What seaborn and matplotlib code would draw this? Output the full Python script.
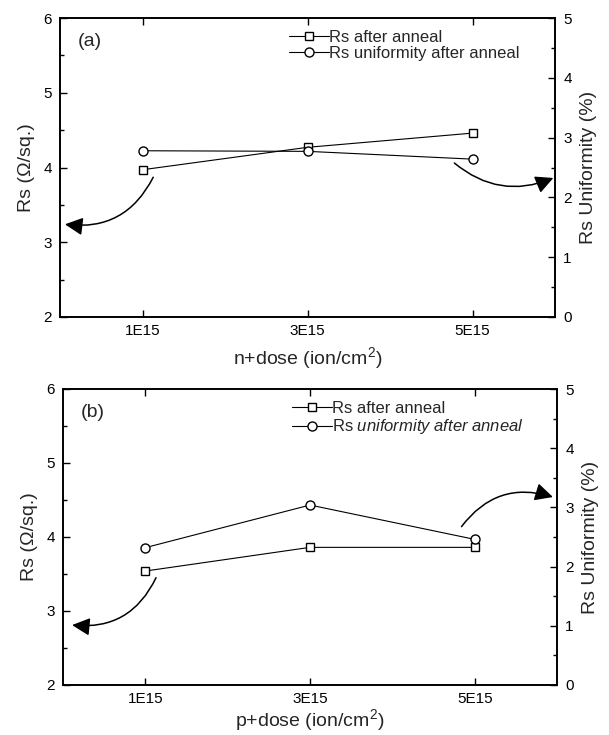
import numpy as np
import pandas as pd
import matplotlib
matplotlib.use("Agg")
import matplotlib.pyplot as plt
import seaborn as sns
from matplotlib.ticker import MultipleLocator, FixedLocator

sns.set_theme(style="white")
plt.rcParams['font.family'] = ['Liberation Sans', 'DejaVu Sans']
plt.rcParams['mathtext.fontset'] = 'custom'
plt.rcParams['mathtext.rm'] = 'Liberation Sans'
plt.rcParams['mathtext.it'] = 'Liberation Sans:italic'

# data (dose in units of 1E15 ion/cm^2)
dose = [1, 3, 5]
dose_labels = ["1E15", "3E15", "5E15"]
rs_n = [3.97, 4.27, 4.46]          # Rs after anneal, n+ (ohm/sq)
unif_n = [2.78, 2.77, 2.64]        # Rs uniformity after anneal, n+ (%)
rs_p = [3.54, 3.86, 3.86]          # Rs after anneal, p+
unif_p = [2.32, 3.04, 2.46]        # Rs uniformity after anneal, p+

fig = plt.figure(figsize=(6.09, 7.35), dpi=100)
ax1 = fig.add_axes([60/609, 1-317/735, 495/609, 299/735])
ax2 = fig.add_axes([63/609, 1-685/735, 494/609, 296/735])

panels = [
    (ax1, rs_n, unif_n, "(a)", "n+dose (ion/cm$^2$)", 5,
     "Rs uniformity after anneal",
     [((1.13, 3.87), (0.06, 3.24), -0.35), ((4.78, 4.06), (5.98, 3.86), 0.3)]),
    (ax2, rs_p, unif_p, "(b)", "p+dose (ion/cm$^2$)", 1,
     r"Rs $\it{uniformity\ after\ anneal}$",
     [((1.13, 3.45), (0.11, 2.81), -0.35), ((4.84, 4.14), (5.95, 4.54), -0.35)]),
]

for ax, rs, un, tag, xlab, lpad, lab2, arrows in panels:
    df1 = pd.DataFrame({"dose": dose, "val": rs})
    df2 = pd.DataFrame({"dose": dose, "val": un})
    sns.lineplot(data=df1, x="dose", y="val", ax=ax, color="black", lw=0.8,
                 marker="s", markersize=6, markerfacecolor="white",
                 markeredgecolor="black", markeredgewidth=1.0, label="Rs after anneal")
    axr = ax.twinx()
    sns.lineplot(data=df2, x="dose", y="val", ax=axr, color="black", lw=0.8,
                 marker="o", markersize=6.5, markerfacecolor="white",
                 markeredgecolor="black", markeredgewidth=1.0, label=lab2)
    ax.set_xlim(0, 6)
    ax.set_ylim(2, 6)
    axr.set_ylim(0, 5)
    ax.xaxis.set_major_locator(FixedLocator(dose))
    ax.set_xticklabels(dose_labels)
    ax.yaxis.set_major_locator(MultipleLocator(1))
    ax.yaxis.set_minor_locator(MultipleLocator(0.5))
    axr.yaxis.set_major_locator(MultipleLocator(1))
    axr.yaxis.set_minor_locator(MultipleLocator(0.5))
    ax.tick_params(axis="both", which="both", direction="in", colors="black",
                   labelsize=11, pad=6)
    ax.tick_params(axis="x", top=True, bottom=True, pad=5)
    ax.tick_params(axis="y", left=True, right=False)
    ax.tick_params(which="major", length=5, width=1)
    ax.tick_params(which="minor", length=3, width=1)
    axr.tick_params(axis="y", which="both", direction="in", colors="black",
                    labelsize=11, pad=6, right=True)
    axr.tick_params(which="major", length=5, width=1)
    axr.tick_params(which="minor", length=3, width=1)
    for a in (ax, axr):
        for s in a.spines.values():
            s.set_color("black")
            s.set_linewidth(1.2)
    ax.set_xlabel(xlab, fontsize=14, labelpad=lpad)
    ax.set_ylabel("Rs (\u03a9/sq.)", fontsize=14, labelpad=6)
    axr.set_ylabel("Rs Uniformity (%)", fontsize=14, labelpad=6)
    ax.text(0.035, 0.92, tag, transform=ax.transAxes, fontsize=14,
            ha="left", va="center")
    h1, l1 = ax.get_legend_handles_labels()
    h2, l2 = axr.get_legend_handles_labels()
    if axr.get_legend():
        axr.get_legend().remove()
    ax.legend(h1 + h2, l1 + l2, loc="upper left", bbox_to_anchor=(0.44, 1.0),
              frameon=False, fontsize=12, handlelength=2.4, handletextpad=0.0,
              labelspacing=0.1, borderaxespad=0.3)
    for start, end, rad in arrows:
        ax.annotate("", xy=end, xytext=start, xycoords="data",
                    arrowprops=dict(arrowstyle="-|>,head_length=0.9,head_width=0.45",
                                    connectionstyle=f"arc3,rad={rad}",
                                    color="black", lw=1.1, shrinkA=0, shrinkB=0))

fig.savefig("out.png", dpi=100)
